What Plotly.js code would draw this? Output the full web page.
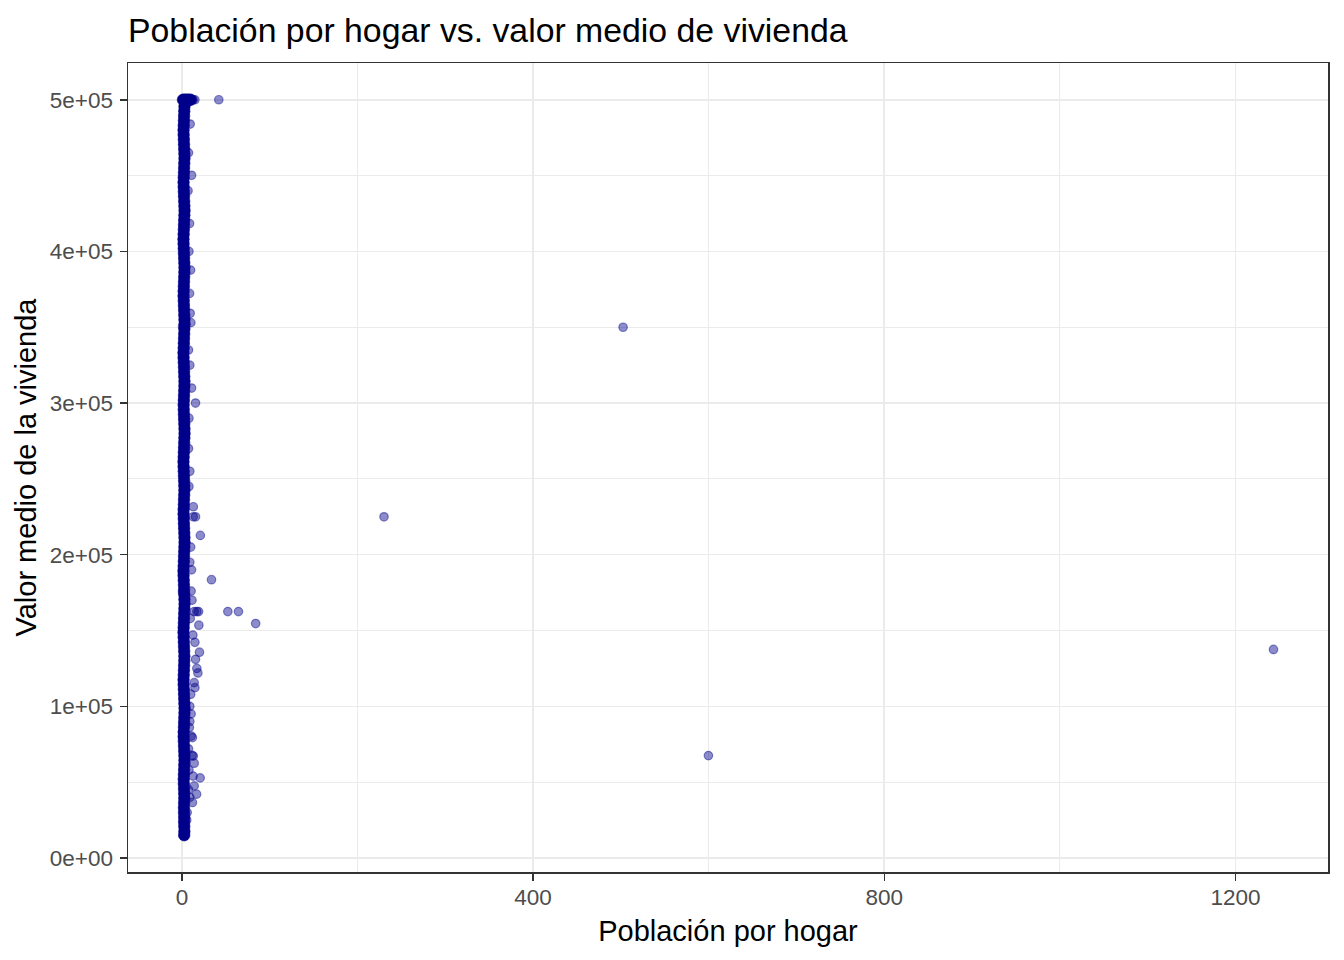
<!DOCTYPE html>
<html>
<head>
<meta charset="utf-8">
<script src="https://cdn.plot.ly/plotly-3.0.1.min.js"></script>
<style>html,body{margin:0;padding:0;background:#fff;}#chart{width:1344px;height:960px;}</style>
</head>
<body>
<div id="chart"></div>
<script>
// ---- Data ----
// Dense column of points near x≈1.5–3.2 (saturated region)
const coreX = [
  2.6, 2.8, 2.7, 2.5, 2.6, 2.4, 2.3, 2.5, 2.7, 2.6, 2.4, 2.2,
  2.1, 2.3, 2.5, 2.7, 2.9, 2.8, 2.6, 2.4, 2.2, 2.0, 2.1, 2.3,
  2.5, 2.7, 2.9, 3.0, 2.8, 2.6, 2.4, 2.2, 2.0, 1.9, 2.1, 2.3,
  2.5, 2.7, 2.8, 2.6, 2.4, 2.2, 2.0, 1.8, 2.0, 2.2, 2.4, 2.6,
  2.8, 3.0, 2.9, 2.7, 2.5, 2.3, 2.1, 1.9, 1.8, 2.0, 2.2, 2.4,
  2.6, 2.8, 3.0, 2.9, 2.7, 2.5, 2.3, 2.1, 1.9, 2.0, 2.2, 2.4,
  2.6, 2.8, 2.7, 2.5, 2.3, 2.1, 1.9, 1.8, 2.0, 2.2, 2.4, 2.6,
  2.8, 3.0, 2.9, 2.7, 2.5, 2.3, 2.1, 2.0, 2.2, 2.4, 2.6, 2.8,
  2.9, 2.7, 2.5, 2.3, 2.1, 1.9, 1.8, 2.0, 2.2, 2.4, 2.6, 2.8,
  3.0, 2.9, 2.7, 2.5, 2.3, 2.1, 1.9, 2.0, 2.2, 2.4, 2.6, 2.8,
  2.9, 2.7, 2.5, 2.3, 2.1, 1.9, 1.8, 2.0, 2.2, 2.4, 2.6, 2.8,
  3.0, 2.8, 2.6, 2.4, 2.2, 2.0, 1.9, 2.1, 2.3, 2.5, 2.7, 2.9,
  2.8, 2.6, 2.4, 2.2, 2.0, 1.9, 2.1, 2.3, 2.5, 2.7, 2.9, 2.6,
  1.2, 4.0, 5.5, 7.0, 8.5, 10.0
];
const coreY = [
  14999, 17500, 20800, 23800, 26900, 30000, 33100, 36300, 39400, 42500, 45600, 48800,
  51900, 55000, 58100, 61300, 64400, 67500, 70600, 73800, 76900, 80000, 83100, 86300,
  89400, 92500, 95600, 98800, 101900, 105000, 108100, 111300, 114400, 117500, 120600, 123800,
  126900, 130000, 133100, 136300, 139400, 142500, 145600, 148800, 151900, 155000, 158100, 161300,
  164400, 167500, 170600, 173800, 176900, 180000, 183100, 186300, 189400, 192500, 195600, 198800,
  201900, 205000, 208100, 211300, 214400, 217500, 220600, 223800, 226900, 230000, 233100, 236300,
  239400, 242500, 245600, 248800, 251900, 255000, 258100, 261300, 264400, 267500, 270600, 273800,
  276900, 280000, 283100, 286300, 289400, 292500, 295600, 298800, 301900, 305000, 308100, 311300,
  314400, 317500, 320600, 323800, 326900, 330000, 333100, 336300, 339400, 342500, 345600, 348800,
  351900, 355000, 358100, 361300, 364400, 367500, 370600, 373800, 376900, 380000, 383100, 386300,
  389400, 392500, 395600, 398800, 401900, 405000, 408100, 411300, 414400, 417500, 420600, 423800,
  426900, 430000, 433100, 436300, 439400, 442500, 445600, 448800, 451900, 455000, 458100, 461300,
  464400, 467500, 470600, 473800, 476900, 480000, 483100, 486300, 489400, 492500, 495600, 500001,
  500001, 500001, 500001, 500001, 500001, 500001
];
// Scattered, individually visible points (edges of the column and outliers)
const edgeX = [
  12.8, 14.8, 42.0,
  9.4, 7.5, 11.0, 7.0, 8.7, 8.0, 9.9, 8.7, 9.4, 10.2, 0.75, 7.5, 9.0, 11.0, 15.5, 8.0, 7.5, 9.0, 8.0,
  13.0, 15.5, 12.9, 21.0, 10.0, 9.0, 11.0, 33.7, 0.7, 10.5, 0.69, 11.5,
  14.0, 17.0, 19.0, 52.3, 64.4, 84.0, 19.3, 9.5, 12.5, 14.8, 20.0, 15.5, 17.0, 18.2, 14.0, 14.8,
  10.0, 9.0, 10.5, 9.0, 0.75, 10.6, 12.0, 11.7, 13.0, 14.0, 12.8, 20.8, 14.0, 16.7, 12.0, 8.0, 7.5, 8.5, 9.0, 7.5, 6.0, 5.5,
  502.5, 230.2, 599.7, 1243.3
];
const edgeY = [
  500001, 500001, 500001,
  484000, 465000, 450200, 440000, 418400, 400000, 387700, 372300, 359200, 353000, 350400, 335000, 325000, 309900, 300000, 290000, 270000, 255000, 245000,
  231600, 225000, 225000, 212700, 205000, 195000, 190000, 183500, 188000, 176000, 175400, 170000,
  162500, 162500, 162500, 162500, 162500, 154600, 153500, 158000, 147000, 142200, 135700, 131000, 125000, 122000, 115600, 112300,
  108000, 100000, 95000, 90000, 83000, 80400, 79400, 67700, 67200, 62500, 54000, 52800, 47500, 42100, 36600, 58000, 72000, 86000, 40000, 45000, 30000, 25000,
  350000, 225000, 67500, 137500
];
// Axis ticks
const xTickVals = [0, 400, 800, 1200];
const xTickText = ['0', '400', '800', '1200'];
const yTickVals = [0, 100000, 200000, 300000, 400000, 500000];
const yTickText = ['0e+00', '1e+05', '2e+05', '3e+05', '4e+05', '5e+05'];

const FONT = 'Liberation Sans, Arial, sans-serif';
const ptColor = 'rgba(0,0,139,0.45)';

const traces = [
  {
    x: edgeX, y: edgeY, type: 'scatter', mode: 'markers', hoverinfo: 'x+y',
    marker: {size: 8.5, color: ptColor, line: {color: ptColor, width: 1.2}}
  },
  {
    x: coreX, y: coreY, type: 'scatter', mode: 'markers', hoverinfo: 'x+y',
    marker: {size: 11.5, color: 'rgb(0,0,139)', line: {color: 'rgb(0,0,139)', width: 0.6}}
  }
];

const axisCommon = {
  showline: true, mirror: true, linecolor: '#333333', linewidth: 1.5,
  ticks: 'outside', ticklen: 7, tickwidth: 1.5, tickcolor: '#333333',
  showgrid: true, gridcolor: '#EBEBEB', gridwidth: 1.6,
  zeroline: false,
  tickfont: {family: FONT, size: 22.5, color: '#4D4D4D'}
};

const layout = {
  width: 1344, height: 960,
  paper_bgcolor: '#ffffff', plot_bgcolor: '#ffffff',
  showlegend: false,
  margin: {l: 128, r: 16, t: 63, b: 88},
  title: {
    text: 'Población por hogar vs. valor medio de vivienda',
    font: {family: FONT, size: 33.8, color: '#000000'},
    x: 0, xref: 'paper', xanchor: 'left',
    y: 1 - 30/960, yref: 'container', yanchor: 'middle'
  },
  xaxis: Object.assign({}, axisCommon, {
    range: [-61.4, 1305.4],
    tickmode: 'array', tickvals: xTickVals, ticktext: xTickText,
    ticklabelstandoff: -3,
    minor: {tick0: 0, dtick: 200, showgrid: true, gridcolor: '#EBEBEB', gridwidth: 1.1, ticks: ''},
    title: {text: 'Población por hogar', font: {family: FONT, size: 29, color: '#000000'}, standoff: 12}
  }),
  yaxis: Object.assign({}, axisCommon, {
    range: [-9251, 524251],
    tickmode: 'array', tickvals: yTickVals, ticktext: yTickText,
    ticklabelstandoff: 2,
    minor: {tick0: 0, dtick: 50000, showgrid: true, gridcolor: '#EBEBEB', gridwidth: 1.1, ticks: ''},
    title: {text: 'Valor medio de la vivienda', font: {family: FONT, size: 29, color: '#000000'}, standoff: 4}
  })
};

Plotly.newPlot('chart', traces, layout, {displayModeBar: false, staticPlot: true});
</script>
</body>
</html>
